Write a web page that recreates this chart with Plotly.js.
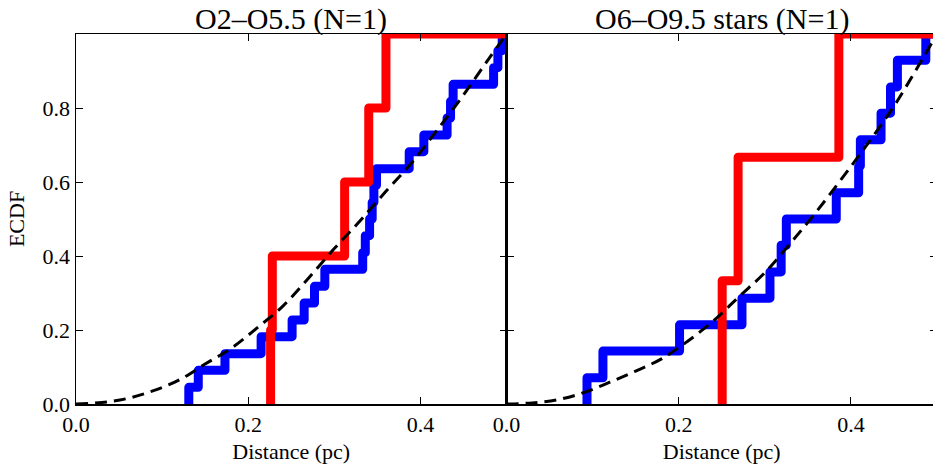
<!DOCTYPE html>
<html>
<head>
<meta charset="utf-8">
<script src="https://cdn.plot.ly/plotly-3.0.1.min.js"></script>
<style>
html,body{margin:0;padding:0;overflow:hidden;background:#fff;}
#chart{width:938px;height:473px;}
</style>
</head>
<body>
<div id="chart"></div>
<script>
// ---- data ----
var panelTitles = ["O2–O5.5 (N=1)", "O6–O9.5 stars (N=1)"];
var xTickVals = [0, 0.2, 0.4];
var xTickText = ["0.0", "0.2", "0.4"];
var yTickVals = [0, 0.2, 0.4, 0.6, 0.8];
var yTickText = ["0.0", "0.2", "0.4", "0.6", "0.8"];

// left panel: sorted distances (pc) and ECDF levels
var leftBlueX = [0.131, 0.142, 0.173, 0.215, 0.251, 0.265, 0.277, 0.289, 0.333, 0.336, 0.341, 0.344, 0.346, 0.349, 0.387, 0.404, 0.431, 0.435, 0.438, 0.485, 0.490, 0.495];
var leftBlueY = [0.045, 0.091, 0.136, 0.182, 0.227, 0.273, 0.318, 0.364, 0.409, 0.455, 0.5, 0.545, 0.591, 0.636, 0.682, 0.727, 0.773, 0.818, 0.864, 0.909, 0.955, 1.0];
var leftRedX = [0.226, 0.228, 0.312, 0.340, 0.360];
var leftRedY = [0.2, 0.4, 0.6, 0.8, 1.0];
var leftModelX = [0, 0.03, 0.06, 0.09, 0.12, 0.15, 0.18, 0.21, 0.24, 0.27, 0.30, 0.33, 0.36, 0.39, 0.42, 0.45, 0.48, 0.50];
var leftModelY = [0, 0.004, 0.015, 0.036, 0.065, 0.108, 0.150, 0.205, 0.264, 0.340, 0.420, 0.495, 0.575, 0.652, 0.742, 0.835, 0.935, 1.0];

// right panel
var rightBlueX = [0.0935, 0.112, 0.201, 0.2735, 0.306, 0.319, 0.325, 0.383, 0.409, 0.411, 0.435, 0.446, 0.454, 0.487];
var rightBlueY = [0.071, 0.143, 0.214, 0.286, 0.357, 0.429, 0.5, 0.571, 0.643, 0.714, 0.786, 0.857, 0.929, 1.0];
var rightRedX = [0.2505, 0.269, 0.386];
var rightRedY = [0.333, 0.667, 1.0];
var rightModelX = [0, 0.03, 0.06, 0.09, 0.12, 0.15, 0.18, 0.21, 0.24, 0.27, 0.30, 0.33, 0.36, 0.39, 0.42, 0.45, 0.48, 0.50];
var rightModelY = [0, 0.003, 0.012, 0.031, 0.059, 0.089, 0.122, 0.169, 0.224, 0.290, 0.355, 0.435, 0.520, 0.611, 0.705, 0.805, 0.920, 1.0];

var X_MAX = 0.5;

// ---- build step traces ----
function stepTrace(xs, ys, color, xa, ya) {
  var x = [xs[0]].concat(xs, [X_MAX]);
  var y = [0].concat(ys, [ys[ys.length - 1]]);
  return {x: x, y: y, xaxis: xa, yaxis: ya, type: 'scatter', mode: 'lines',
          line: {shape: 'hv', color: color, width: 9}, hoverinfo: 'skip', showlegend: false};
}
function modelTrace(xs, ys, xa, ya) {
  return {x: xs, y: ys, xaxis: xa, yaxis: ya, type: 'scatter', mode: 'lines',
          line: {shape: 'spline', color: '#000000', width: 3, dash: '12px,7px'},
          hoverinfo: 'skip', showlegend: false};
}

var traces = [
  stepTrace(leftBlueX, leftBlueY, '#0000ff', 'x', 'y'),
  stepTrace(leftRedX, leftRedY, '#ff0000', 'x', 'y'),
  modelTrace(leftModelX, leftModelY, 'x', 'y'),
  stepTrace(rightBlueX, rightBlueY, '#0000ff', 'x2', 'y2'),
  stepTrace(rightRedX, rightRedY, '#ff0000', 'x2', 'y2'),
  modelTrace(rightModelX, rightModelY, 'x2', 'y2')
];

var FONT = 'Liberation Serif, Times New Roman, serif';
function xAxis(domain, anchor) {
  return {domain: domain, anchor: anchor, range: [0, X_MAX], tickmode: 'array',
          tickvals: xTickVals, ticktext: xTickText, ticks: 'inside', ticklen: 7, tickwidth: 1,
          tickcolor: '#000', showline: true, linecolor: '#000', linewidth: 1.5, mirror: 'allticks',
          showgrid: false, zeroline: false, tickfont: {family: FONT, size: 22, color: '#000'},
          title: {text: 'Distance (pc)', font: {family: FONT, size: 22, color: '#000'}, standoff: 7}};
}
function yAxis(anchor, labels) {
  var a = {domain: [0, 1], anchor: anchor, range: [0, 1.0], tickmode: 'array',
          tickvals: yTickVals, ticktext: yTickText, ticks: 'inside', ticklen: 7, tickwidth: 1,
          tickcolor: '#000', showline: true, linecolor: '#000', linewidth: 1.5, mirror: 'allticks',
          showgrid: false, zeroline: false, showticklabels: labels,
          tickfont: {family: FONT, size: 22, color: '#000'}};
  if (labels) a.title = {text: 'ECDF', font: {family: FONT, size: 22, color: '#000'}, standoff: 12};
  return a;
}

var layout = {
  width: 938, height: 473,
  margin: {l: 76, r: 1, t: 34, b: 69},
  paper_bgcolor: '#fff', plot_bgcolor: '#fff',
  font: {family: FONT, color: '#000'},
  xaxis: xAxis([0, 0.5], 'y'),
  xaxis2: xAxis([0.5, 1], 'y2'),
  yaxis: yAxis('x', true),
  yaxis2: yAxis('x2', false),
  annotations: [
    {text: panelTitles[0], xref: 'paper', yref: 'paper', x: 0.25, y: 1, xanchor: 'center', yanchor: 'bottom',
     showarrow: false, font: {family: FONT, size: 30, color: '#000'}, yshift: -4},
    {text: panelTitles[1], xref: 'paper', yref: 'paper', x: 0.75, y: 1, xanchor: 'center', yanchor: 'bottom',
     showarrow: false, font: {family: FONT, size: 30, color: '#000'}, yshift: -4}
  ]
};

Plotly.newPlot('chart', traces, layout, {displayModeBar: false, staticPlot: true}).then(function (gd) {
  gd.querySelectorAll('.scatterlayer .js-line').forEach(function (p) {
    p.style.strokeLinejoin = 'round';
  });
});
</script>
</body>
</html>
